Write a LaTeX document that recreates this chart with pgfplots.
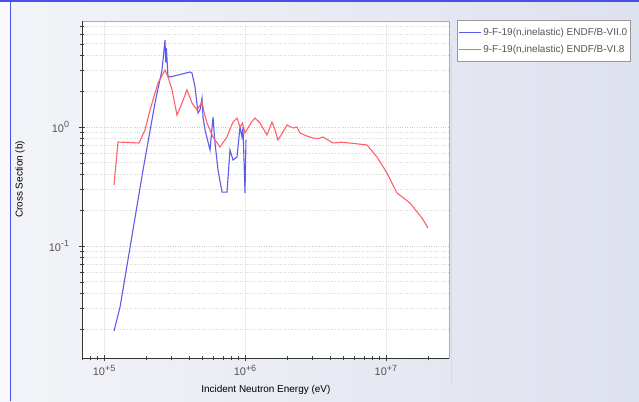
\documentclass[border=0pt]{standalone}
\usepackage{pgfplots}
\pgfplotsset{compat=1.18}
\usepackage{fontspec}
\setmainfont{Liberation Sans}
\definecolor{endfseven}{RGB}{92,92,232}
\definecolor{endfsix}{RGB}{255,96,108}
\definecolor{panelL}{RGB}{243,244,248}
\definecolor{panelR}{RGB}{222,225,238}
\definecolor{frameblue}{RGB}{70,80,235}
\definecolor{labelgray}{RGB}{85,85,85}
% power-of-ten label with a raised exponent
\newcommand{\pw}[1]{10\raisebox{0.42em}{\fontsize{9bp}{9bp}\selectfont #1}}

% ENDF/B-VII.0 inelastic cross section of F-19
\pgfplotstableread{
E        xs
1.177e5  0.0193
1.299e5  0.0307
1.891e5  0.435
2.299e5  1.59
2.578e5  3.01
2.708e5  5.38
2.740e5  3.50
2.770e5  4.60
2.840e5  2.70
2.938e5  2.63
4.073e5  2.90
4.209e5  2.84
4.420e5  2.17
4.642e5  1.31
4.800e5  1.40
4.955e5  1.75
5.037e5  1.21
5.204e5  0.944
5.647e5  0.641
5.930e5  1.21
6.127e5  0.734
6.435e5  0.435
6.869e5  0.284
7.453e5  0.284
7.828e5  0.641
8.221e5  0.528
8.776e5  0.560
9.215e5  1.00
9.522e5  0.824
9.678e5  1.00
1.000e6  0.279
1.016e6  0.778
}\viiData

% ENDF/B-VI.8 inelastic cross section of F-19
\pgfplotstableread{
E        xs
1.177e5  0.326
1.257e5  0.748
1.771e5  0.734
1.953e5  0.944
2.120e5  1.39
2.415e5  2.34
2.708e5  3.01
2.844e5  2.63
3.036e5  2.05
3.294e5  1.26
3.574e5  1.59
3.879e5  2.05
4.209e5  1.59
4.567e5  1.39
4.955e5  1.62
5.150e5  1.30
5.377e5  1.08
5.930e5  0.824
6.648e5  0.679
7.100e5  0.760
7.453e5  0.824
7.800e5  0.950
8.221e5  1.10
8.776e5  1.19
9.215e5  1.00
9.600e5  1.08
1.000e6  0.890
1.050e6  0.981
1.110e6  1.10
1.177e6  1.19
1.278e6  1.08
1.432e6  0.857
1.554e6  1.10
1.630e6  0.950
1.714e6  0.778
1.850e6  0.900
1.986e6  1.04
2.190e6  0.981
2.338e6  1.00
2.455e6  0.890
2.750e6  0.840
3.036e6  0.808
3.300e6  0.800
3.574e6  0.824
4.209e6  0.734
4.800e6  0.745
5.555e6  0.734
6.400e6  0.720
7.333e6  0.706
8.635e6  0.560
1.016e7  0.411
1.197e7  0.279
1.480e7  0.230
1.800e7  0.172
1.986e7  0.142
}\viData

\begin{document}
\begin{tikzpicture}[x=1bp,y=1bp]
\useasboundingbox (0,0) rectangle (639,401);
\shade[left color=panelL, right color=panelR] (0,0) rectangle (639,401);
\fill[white,opacity=0.5] (0,0) rectangle (10.5,401);
\draw[frameblue, line width=1.6bp] (0,400.2) -- (639,400.2);
\draw[frameblue, line width=0.9bp] (10.5,0) -- (10.5,401);
% soft shadow of the plot panel
\draw[gray!30, line width=1.2bp] (451.5,19) -- (451.5,356);
\begin{axis}[
  at={(82bp,43bp)}, anchor=south west, scale only axis,
  width=367bp, height=337bp,
  xmode=log, ymode=log,
  xmin=6.98e4, xmax=2.80e7, ymin=0.01145, ymax=7.78,
  axis background/.style={fill=white},
  axis line style={draw=gray!65, line width=0.8bp},
  xtick={1e5,1e6,1e7},
  xticklabels={\pw{+5},\pw{+6},\pw{+7}},
  minor xtick={7e4,8e4,9e4,2e5,3e5,4e5,5e5,6e5,7e5,8e5,9e5,2e6,3e6,4e6,5e6,6e6,7e6,8e6,9e6,2e7},
  ytick={0.1,1},
  yticklabels={\pw{-1},\pw{0}},
  minor ytick={0.02,0.03,0.04,0.05,0.06,0.07,0.08,0.09,0.2,0.3,0.4,0.5,0.6,0.7,0.8,0.9,2,3,4,5,6,7},
  xtick pos=left, ytick pos=left,
  tick align=center,
  major tick length=7bp, minor tick length=4bp,
  every tick/.style={black!75, line width=0.6bp},
  ymajorgrids, yminorgrids, xmajorgrids,
  major grid style={gray!40, dotted, line width=0.8bp},
  minor grid style={gray!32, dotted, line width=0.8bp},
  x grid style={gray!15, solid, line width=0.5bp},
  tick label style={font=\fontsize{11bp}{12bp}\selectfont, text=labelgray},
  xticklabel style={yshift=0bp},
  yticklabel style={xshift=-6bp},
  xlabel={Incident Neutron Energy (eV)},
  ylabel={Cross Section (b)},
  label style={font=\fontsize{10bp}{11bp}\selectfont, text=labelgray},
  every axis x label/.style={at={(rel axis cs:0.501,-0.095)}, anchor=center},
  every axis y label/.style={at={(rel axis cs:-0.169,0.53)}, anchor=center, rotate=90},
  legend style={at={(1.0218,1.003)}, anchor=north west, draw=gray!80, fill=white,
    font=\fontsize{10bp}{11bp}\selectfont, text=labelgray,
    inner xsep=1bp, inner ysep=6bp, row sep=4bp,
    /tikz/every even column/.append style={column sep=5bp}},
  legend cell align=left,
  legend image code/.code={\draw[#1] (0bp,0bp) -- (22bp,0bp);},
  clip=true,
]
\addplot[endfseven, line width=1.1bp] table[x=E, y=xs] {\viiData};
\addlegendentry{9-F-19(n,inelastic) ENDF/B-VII.0}
\addplot[endfsix, line width=1.1bp] table[x=E, y=xs] {\viData};
\addlegendentry{9-F-19(n,inelastic) ENDF/B-VI.8}
\draw[black!80, line width=0.9bp] (rel axis cs:0,1) -- (rel axis cs:0,0) -- (rel axis cs:1,0);
\end{axis}
\end{tikzpicture}
\end{document}
